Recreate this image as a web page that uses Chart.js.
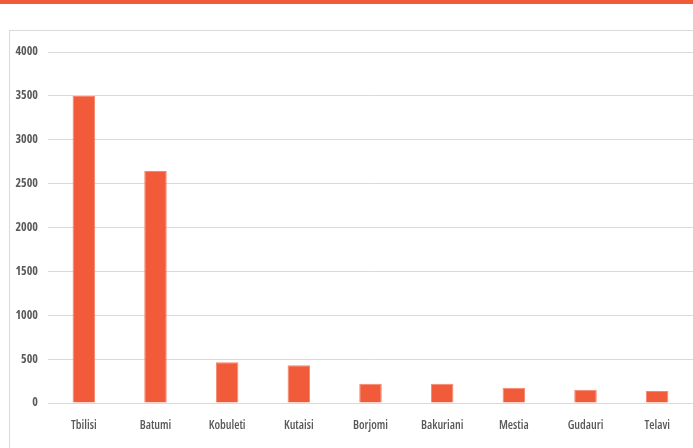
<!DOCTYPE html>
<html>
<head>
<meta charset="utf-8">
<script src="https://cdn.jsdelivr.net/npm/chart.js@4/dist/chart.umd.min.js"></script>
<style>
  html, body { margin: 0; padding: 0; background: #fff; overflow: hidden; }
  #topbar { position: absolute; left: 0; top: 0; width: 693px; height: 4px; background: #f15b3a; }
  #frame { position: absolute; left: 9px; top: 30px; width: 720px; height: 440px; border: 1px solid #dadada; }
  #wrap { position: absolute; left: 0; top: 0; width: 693px; height: 448px; }
</style>
</head>
<body>
<div id="topbar"></div>
<div id="frame"></div>
<div id="wrap"><canvas id="chart"></canvas></div>
<script>
// visitors by city
const cities = ["Tbilisi", "Batumi", "Kobuleti", "Kutaisi", "Borjomi", "Bakuriani", "Mestia", "Gudauri", "Telavi"];
const counts = [3500, 2645, 465, 430, 220, 218, 175, 152, 138];
const yTicks = [0, 500, 1000, 1500, 2000, 2500, 3000, 3500, 4000];

// "condensed" goes into the font shorthand so the narrow width of Open Sans is used
const fam = "'Open Sans', 'DejaVu Sans Condensed', sans-serif";

new Chart(document.getElementById("chart"), {
  type: "bar",
  data: {
    labels: cities,
    datasets: [{
      data: counts,
      backgroundColor: "#f15b3a",
      borderColor: "#f5866d",
      borderWidth: 1,
      categoryPercentage: 1,
      barPercentage: 0.314,
    }],
  },
  options: {
    responsive: true,
    maintainAspectRatio: false,
    animation: false,
    layout: { padding: { left: 10, right: 0, top: 52, bottom: 0 } },
    plugins: { legend: { display: false }, tooltip: { enabled: false } },
    scales: {
      x: {
        grid: { display: false, drawTicks: false },
        border: { display: false },
        ticks: { color: "#595959", font: { family: fam, size: 12, weight: "600 condensed" }, padding: 15, maxRotation: 0 },
        afterFit: (s) => { s.height = 45; },
      },
      y: {
        min: 0,
        max: 4000,
        afterBuildTicks: (s) => { s.ticks = yTicks.map((v) => ({ value: v })); },
        grid: { color: "#d9d9d9", drawTicks: false },
        border: { display: false },
        ticks: {
          color: "#595959",
          font: { family: fam, size: 12, weight: "bold condensed" },
          padding: 10,
          callback: (v) => String(v),
        },
        afterFit: (s) => { s.width = 38; },
      },
    },
  },
});
</script>
</body>
</html>
